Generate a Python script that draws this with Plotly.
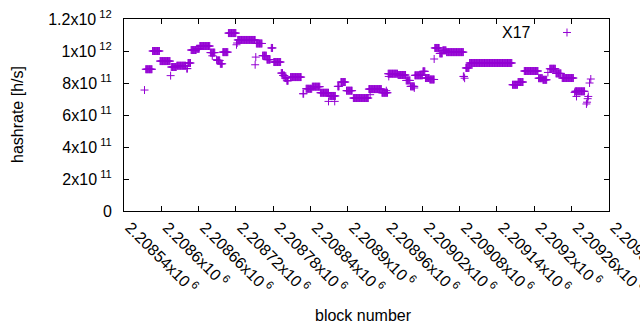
import numpy as np
import plotly.graph_objects as go

BASE = 2208540
# runs of constant hashrate: block offset start, block offset end, value (x1e11 h/s)
run_start = [33, 35, 46, 58, 75, 76, 85, 101, 103, 108, 117, 122, 139, 142, 149, 150, 155, 159, 168, 181, 182, 183,
             212, 211, 213, 223, 230, 237, 241, 253, 256, 259, 262, 268, 288, 293, 303, 316, 331, 329, 339, 344, 349,
             358, 369, 394, 396, 415, 422, 425, 426, 441, 454, 461, 467, 468, 481, 485, 492, 499, 500, 508, 513, 519,
             546, 548, 550, 556, 625, 634, 644, 667, 674, 682, 685, 695, 705, 725, 726, 728, 744, 745, 746, 747, 749, 751]
run_end = [33, 45, 57, 74, 75, 84, 99, 102, 107, 116, 121, 138, 146, 142, 149, 154, 158, 167, 180, 181, 182, 211,
           212, 211, 222, 229, 235, 239, 252, 255, 258, 261, 264, 285, 289, 302, 315, 329, 340, 329, 339, 346, 356,
           367, 393, 414, 396, 424, 422, 440, 426, 453, 460, 467, 467, 480, 484, 491, 499, 499, 507, 512, 518, 546,
           547, 548, 555, 624, 633, 642, 666, 673, 680, 682, 694, 703, 723, 725, 741, 728, 744, 745, 746, 747, 749, 751]
run_value = [7.56, 8.86, 10.0, 9.37, 8.46, 9.0, 9.08, 8.9, 9.25, 10.06, 10.14, 10.31, 9.9, 9.7, 9.46, 9.41, 9.2, 9.93,
             11.12, 10.39, 10.5, 10.69, 9.62, 9.14, 10.47, 9.71, 9.46, 10.19, 9.31, 8.62, 8.47, 8.31, 8.14, 8.37, 7.33,
             7.64, 7.77, 7.39, 7.19, 6.85, 6.85, 7.79, 8.06, 7.52, 7.06, 7.62, 7.27, 7.39, 7.52, 8.58, 8.41, 8.5, 8.16,
             7.79, 7.69, 8.48, 8.73, 8.31, 8.22, 9.5, 10.19, 9.85, 10.04, 9.93, 8.41, 8.3, 8.94, 9.25, 7.89, 8.06, 8.75,
             8.3, 8.2, 8.66, 8.89, 8.6, 8.31, 7.41, 7.48, 7.16, 6.69, 6.8, 7.02, 7.16, 8.0, 8.25]

x_tick_vals = [BASE + 60 * k for k in range(14)]
x_tick_text = ["2.20854", "2.2086", "2.20866", "2.20872", "2.20878", "2.20884", "2.2089", "2.20896",
               "2.20902", "2.20908", "2.20914", "2.2092", "2.20926", "2.20932"]
y_tick_vals = [0, 2e11, 4e11, 6e11, 8e11, 1e12, 1.2e12]
y_tick_text = ["0", "2x10<sup> 11</sup>", "4x10<sup> 11</sup>", "6x10<sup> 11</sup>", "8x10<sup> 11</sup>",
               "1x10<sup> 12</sup>", "1.2x10<sup> 12</sup>"]

xs, ys = [], []
for s, e, v in zip(run_start, run_end, run_value):
    for b in range(s, e + 1):
        xs.append(BASE + b)
        ys.append(v * 1e11)

PURPLE = "#9400D3"
FONT = "Liberation Sans"

fig = go.Figure()
fig.add_trace(go.Scatter(x=xs, y=ys, mode="markers", name="X17",
                         marker=dict(symbol="cross-thin-open", size=5.7, color=PURPLE,
                                     line=dict(color=PURPLE, width=1))))

axis_common = dict(showline=True, linecolor="black", linewidth=1, mirror="ticks", ticks="inside",
                   ticklen=5, tickcolor="black", showgrid=False, zeroline=False, automargin=False,
                   ticklabeloverflow="allow",
                   tickfont=dict(family=FONT, size=16, color="black"))
fig.update_layout(
    width=640, height=330,
    margin=dict(l=124, r=31, t=19, b=119),
    paper_bgcolor="white", plot_bgcolor="white",
    showlegend=False,
    font=dict(family=FONT, size=16, color="black"),
    xaxis=dict(range=[BASE, BASE + 780.3], tickvals=x_tick_vals,
               ticktext=[t + "x10<sup> 6</sup>" for t in x_tick_text], tickangle=45,
               ticklabelshift=6, **axis_common),
    yaxis=dict(range=[0, 1.2e12], tickvals=y_tick_vals, ticktext=y_tick_text, ticklabelstandoff=8,
               **axis_common),
    annotations=[
        dict(text="hashrate [h/s]", xref="paper", yref="paper", x=-0.2206, y=0.5, textangle=-90,
             xanchor="center", yanchor="middle",
             showarrow=False, font=dict(family=FONT, size=16)),
        dict(text="block number", xref="paper", yref="paper", x=0.4948, y=-0.5417,
             xanchor="center", yanchor="middle",
             showarrow=False, font=dict(family=FONT, size=16)),
        dict(text="X17", xref="paper", yref="paper", x=0.8433, y=0.932, xanchor="right", yanchor="middle",
             showarrow=False, font=dict(family=FONT, size=16)),
    ],
    shapes=[
        dict(type="line", xref="paper", yref="paper", x0=0.9052, x1=0.9216, y0=0.9297, y1=0.9297,
             line=dict(color=PURPLE, width=1)),
        dict(type="line", xref="paper", yref="paper", x0=0.9134, x1=0.9134, y0=0.9089, y1=0.9505,
             line=dict(color=PURPLE, width=1)),
    ],
)

fig.write_html("out.html", config={"displayModeBar": False},
               post_script="document.body.style.margin='0';document.body.style.overflow='hidden';")
